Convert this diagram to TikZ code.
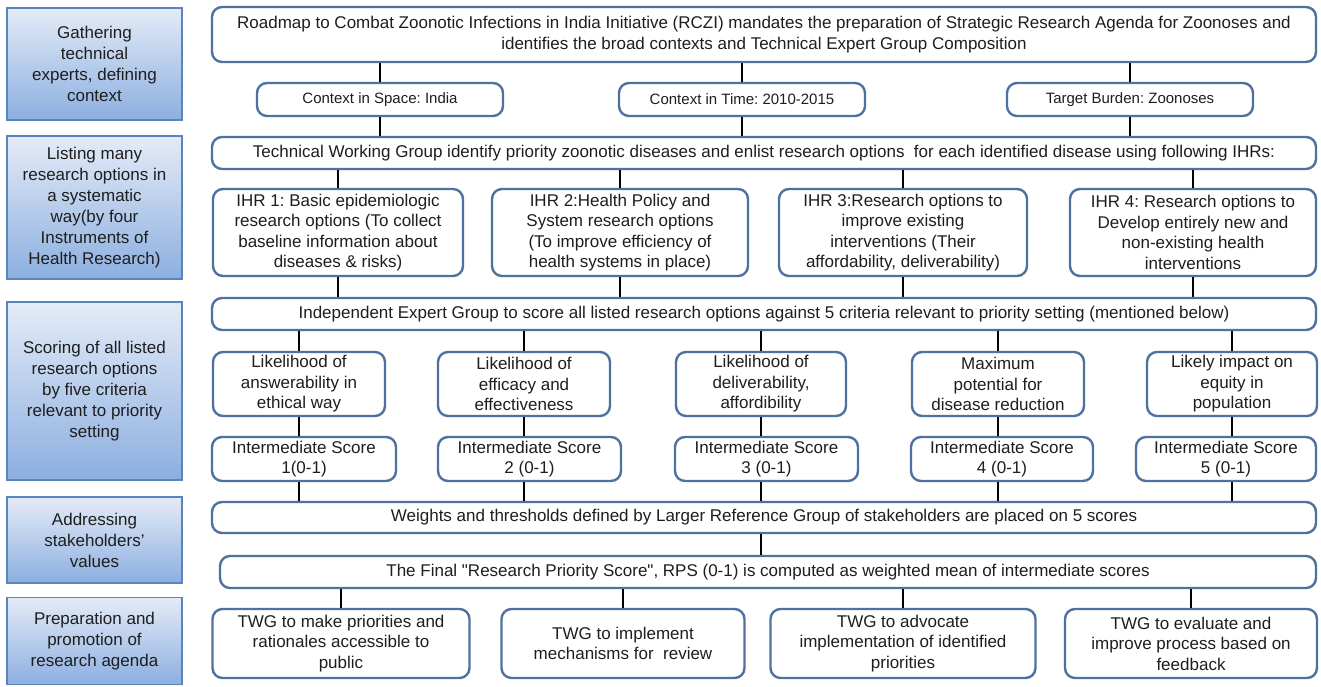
\documentclass[tikz,border=0pt]{standalone}
\usepackage{fontspec}
\setmainfont{Liberation Sans}[Ligatures=TeXOff]
\frenchspacing
\definecolor{edgeblue}{HTML}{4E71A0}
\definecolor{stagetop}{HTML}{E4EBF7}
\definecolor{stagebot}{HTML}{8CAFE0}
\definecolor{stageline}{HTML}{5A84BE}
\definecolor{ink}{HTML}{1E1E1E}
\tikzstyle{stage} = [rectangle, draw=stageline, line width=1.4pt, top color=stagetop, bottom color=stagebot, align=center, inner sep=0pt, text=ink, font=\fontsize{17}{21}\selectfont]
\tikzstyle{box} = [rectangle, rounded corners=10pt, draw=edgeblue, line width=2.4pt, fill=white, align=center, inner sep=0pt, text=ink, font=\fontsize{17}{20.5}\selectfont]
\tikzstyle{small} = [font=\fontsize{15}{18}\selectfont]
\tikzstyle{link} = [line width=2.8pt, black]

\begin{document}
\begin{tikzpicture}[x=1pt, y=-1pt]
\useasboundingbox (0,0) rectangle (1321,687);
% stages on the left
\node[stage, minimum width=175, minimum height=112] (st1) at (94.5,64) {Gathering\\technical\\experts, defining\\context};
\node[stage, minimum width=175, minimum height=143] (st2) at (94.5,207.5) {Listing many\\research options in\\a systematic\\way(by four\\Instruments of\\Health Research)};
\node[stage, minimum width=175, minimum height=178] (st3) at (94.5,391) {Scoring of all listed\\research options\\by five criteria\\relevant to priority\\setting};
\node[stage, minimum width=175, minimum height=86] (st4) at (94.5,540) {Addressing\\stakeholders’\\values};
\node[stage, minimum width=175, minimum height=87] (st5) at (94.5,641) {Preparation and\\promotion of\\research agenda};

% context
\node[box, minimum width=1104, minimum height=55] (rczi) at (764,34.5) {Roadmap to Combat Zoonotic Infections in India Initiative (RCZI) mandates the preparation of Strategic Research Agenda for Zoonoses and\\identifies the broad contexts and Technical Expert Group Composition};
\node[box, small, minimum width=246, minimum height=33] (space) at (380,99.5) {Context in Space: India};
\node[box, small, minimum width=246, minimum height=33] (time) at (742,99.5) {Context in Time: 2010-2015};
\node[box, small, minimum width=246, minimum height=33] (burden) at (1130,99.5) {Target Burden: Zoonoses};

% research options
\node[box, minimum width=1104, minimum height=32] (twg) at (764,153) {Technical Working Group identify priority zoonotic diseases and enlist research options\ \ for each identified disease using following IHRs:};
\node[box, minimum width=250, minimum height=87] (ihr1) at (338,232.5) {IHR 1: Basic epidemiologic\\research options (To collect\\baseline information about\\diseases \& risks)};
\node[box, minimum width=256, minimum height=87] (ihr2) at (620,232.5) {IHR 2:Health Policy and\\System research options\\(To improve efficiency of\\health systems in place)};
\node[box, minimum width=248, minimum height=87] (ihr3) at (903,232.5) {IHR 3:Research options to\\improve existing\\interventions (Their\\affordability, deliverability)};
\node[box, minimum width=246, minimum height=87] (ihr4) at (1193,232.5) {IHR 4: Research options to\\Develop entirely new and\\non-existing health\\interventions};

% scoring
\node[box, minimum width=1104, minimum height=32] (ieg) at (764,314) {Independent Expert Group to score all listed research options against 5 criteria relevant to priority setting (mentioned below)};
\node[box, minimum width=172, minimum height=64] (crit1) at (299,384) {Likelihood of\\answerability in\\ethical way};
\node[box, minimum width=172, minimum height=64] (crit2) at (524,384) {Likelihood of\\efficacy and\\effectiveness};
\node[box, minimum width=170, minimum height=64] (crit3) at (761,384) {Likelihood of\\deliverability,\\affordibility};
\node[box, minimum width=172, minimum height=64] (crit4) at (998,384) {Maximum\\potential for\\disease reduction};
\node[box, minimum width=170, minimum height=64] (crit5) at (1232,384) {Likely impact on\\equity in\\population};
\node[box, minimum width=184, minimum height=44] (score1) at (304,459) {Intermediate Score\\1(0-1)};
\node[box, minimum width=183, minimum height=44] (score2) at (529.5,459) {Intermediate Score\\2 (0-1)};
\node[box, minimum width=183, minimum height=44] (score3) at (766.5,459) {Intermediate Score\\3 (0-1)};
\node[box, minimum width=182, minimum height=44] (score4) at (1002,459) {Intermediate Score\\4 (0-1)};
\node[box, minimum width=180, minimum height=44] (score5) at (1226,459) {Intermediate Score\\5 (0-1)};

% stakeholders and agenda
\node[box, minimum width=1104, minimum height=31] (weights) at (764,517.5) {Weights and thresholds defined by Larger Reference Group of stakeholders are placed on 5 scores};
\node[box, minimum width=1096, minimum height=32] (rps) at (768,572) {The Final \symbol{34}Research Priority Score\symbol{34}, RPS (0-1) is computed as weighted mean of intermediate scores};
\node[box, minimum width=257, minimum height=69] (agenda1) at (341,643.5) {TWG to make priorities and\\rationales accessible to\\public};
\node[box, minimum width=243, minimum height=69] (agenda2) at (623,643.5) {TWG to implement\\mechanisms for\ \ review};
\node[box, minimum width=265, minimum height=69] (agenda3) at (903,643.5) {TWG to advocate\\implementation of identified\\priorities};
\node[box, minimum width=252, minimum height=69] (agenda4) at (1191,643.5) {TWG to evaluate and\\improve process based on\\feedback};

% links
\draw[link] (space.north) -- (space.north |- rczi.south);
\draw[link] (time.north) -- (time.north |- rczi.south);
\draw[link] (burden.north) -- (burden.north |- rczi.south);
\draw[link] (space.south) -- (space.south |- twg.north);
\draw[link] (time.south) -- (time.south |- twg.north);
\draw[link] (burden.south) -- (burden.south |- twg.north);
\draw[link] (ihr1.north) -- (ihr1.north |- twg.south);
\draw[link] (ihr2.north) -- (ihr2.north |- twg.south);
\draw[link] (ihr3.north) -- (ihr3.north |- twg.south);
\draw[link] (ihr4.north) -- (ihr4.north |- twg.south);
\draw[link] (ihr1.south) -- (ihr1.south |- ieg.north);
\draw[link] (ihr2.south) -- (ihr2.south |- ieg.north);
\draw[link] (ihr3.south) -- (ihr3.south |- ieg.north);
\draw[link] (ihr4.south) -- (ihr4.south |- ieg.north);
\draw[link] (crit1.north) -- (crit1.north |- ieg.south);
\draw[link] (crit2.north) -- (crit2.north |- ieg.south);
\draw[link] (crit3.north) -- (crit3.north |- ieg.south);
\draw[link] (crit4.north) -- (crit4.north |- ieg.south);
\draw[link] (crit5.north) -- (crit5.north |- ieg.south);
\draw[link] (crit1.south) -- (crit1.south |- score1.north);
\draw[link] (crit2.south) -- (crit2.south |- score2.north);
\draw[link] (crit3.south) -- (crit3.south |- score3.north);
\draw[link] (crit4.south) -- (crit4.south |- score4.north);
\draw[link] (crit5.south) -- (crit5.south |- score5.north);
\draw[link] (crit1.south |- score1.south) -- (crit1.south |- weights.north);
\draw[link] (crit2.south |- score2.south) -- (crit2.south |- weights.north);
\draw[link] (crit3.south |- score3.south) -- (crit3.south |- weights.north);
\draw[link] (crit4.south |- score4.south) -- (crit4.south |- weights.north);
\draw[link] (crit5.south |- score5.south) -- (crit5.south |- weights.north);
\draw[link] (crit3.south |- weights.south) -- (crit3.south |- rps.north);
\draw[link] (agenda1.north) -- (agenda1.north |- rps.south);
\draw[link] (agenda2.north) -- (agenda2.north |- rps.south);
\draw[link] (agenda3.north) -- (agenda3.north |- rps.south);
\draw[link] (agenda4.north) -- (agenda4.north |- rps.south);
\end{tikzpicture}
\end{document}
